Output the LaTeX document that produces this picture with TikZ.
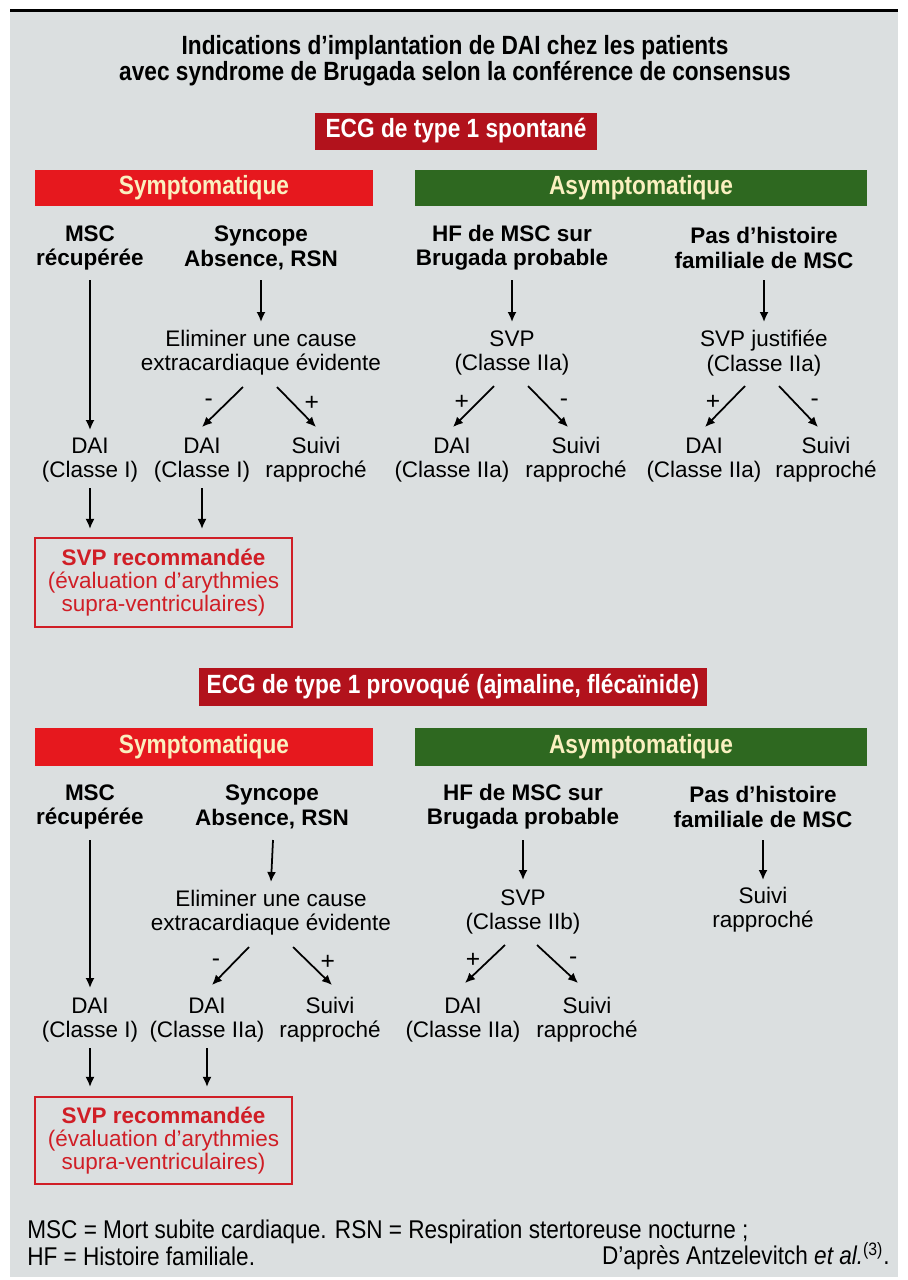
\documentclass[tikz,border=0pt]{standalone}
\usepackage{fontspec}
\setmainfont{Liberation Sans}
\newfontfamily\condfont[FakeStretch=0.86]{Liberation Sans}
\newfontfamily\footfont[FakeStretch=0.88]{Liberation Sans}
\usetikzlibrary{arrows.meta}
\definecolor{panelgray}{RGB}{219,223,224}
\definecolor{ecgred}{RGB}{178,18,28}
\definecolor{symred}{RGB}{230,24,30}
\definecolor{asygreen}{RGB}{46,104,32}
\definecolor{barcream}{RGB}{250,240,192}
\definecolor{recred}{RGB}{208,30,38}

\begin{document}
\begin{tikzpicture}[x=0.2mm, y=-0.2mm, >={Latex[length=2mm,width=1.8mm]},
    txt/.style={align=center, inner sep=0pt, font=\fontsize{12.8}{13.8}\selectfont},
    hd/.style={align=center, inner sep=0pt, font=\fontsize{12.8}{13.8}\selectfont\bfseries},
    bar/.style={inner sep=0pt, minimum height=7.2mm, text=barcream, font=\condfont\fontsize{15}{15}\selectfont\bfseries},
    ecg/.style={inner sep=0pt, fill=ecgred, text=white, font=\condfont\fontsize{15}{15}\selectfont\bfseries},
    rec/.style={draw=recred, line width=1.2pt, text=recred, align=center, inner sep=0pt, minimum width=51.4mm, font=\fontsize{12.8}{13.2}\selectfont},
    foot/.style={inner sep=0pt, font=\footfont\fontsize{14.6}{14.6}\selectfont},
    arr/.style={->, line width=1pt},
    sgn/.style={inner sep=0pt, yshift=-0.8mm, font=\fontsize{14}{14}\selectfont}]
    \useasboundingbox (0,0) rectangle (907,1280);
    \fill[panelgray] (10,10) rectangle (898,1277);
    \draw[line width=0.6mm] (10,10) -- (898,10);

    \node[align=center, inner sep=0pt, font=\condfont\fontsize{15}{14.8}\selectfont\bfseries] (title) at (455,61) {Indications d’implantation de DAI chez les patients\\avec syndrome de Brugada selon la conférence de consensus};

    \node[ecg, minimum width=56.4mm, minimum height=7.4mm] (ecg1) at (456,131) {ECG de type 1 spontané};
    \node[bar, fill=symred, minimum width=67.6mm] (sym1) at (204,188) {Symptomatique};
    \node[bar, fill=asygreen, minimum width=90.4mm] (asy1) at (641,188) {Asymptomatique};

    \node[hd] (msc1) at (90,248) {MSC\\récupérée};
    \node[hd] (syn1) at (261,248) {Syncope\\Absence, RSN};
    \node[hd] (hf1) at (512,248) {HF de MSC sur\\Brugada probable};
    \node[hd] (pas1) at (764,248) {Pas d’histoire\\familiale de MSC};
    \node[txt] (elim1) at (261,353) {Eliminer une cause\\extracardiaque évidente};
    \node[txt] (svpA1) at (512,353) {SVP\\(Classe IIa)};
    \node[txt] (svpB1) at (764,353) {SVP justifiée\\(Classe IIa)};
    \node[txt] (daiA1) at (90,460) {DAI\\(Classe I)};
    \node[txt] (daiB1) at (202,460) {DAI\\(Classe I)};
    \node[txt] (suiB1) at (316,460) {Suivi\\rapproché};
    \node[txt] (daiC1) at (452,460) {DAI\\(Classe IIa)};
    \node[txt] (suiC1) at (576,460) {Suivi\\rapproché};
    \node[txt] (daiD1) at (704,460) {DAI\\(Classe IIa)};
    \node[txt] (suiD1) at (826,460) {Suivi\\rapproché};
    \node[rec, minimum height=17.8mm] (rec1) at (163.5,582.5) {\textbf{SVP recommandée}\\(évaluation d’arythmies\\supra-ventriculaires)};

    \draw[arr] ([yshift=-6.4mm]msc1.center) -- ([yshift=6mm]daiA1.center);
    \draw[arr] ([yshift=-6.4mm]syn1.center) -- ([yshift=6.2mm]elim1.center);
    \draw[arr] ([yshift=-6.4mm]hf1.center) -- ([yshift=6.2mm]svpA1.center);
    \draw[arr] ([yshift=-6.4mm]pas1.center) -- ([yshift=6.2mm]svpB1.center);
    \draw[arr] ([xshift=-3.6mm,yshift=-6.8mm]elim1.center) -- ([yshift=6.6mm]daiB1.center) node[sgn, pos=0.3, xshift=-4.4mm] (m1) {-};
    \draw[arr] ([xshift=3.2mm,yshift=-6.8mm]elim1.center) -- ([yshift=6.6mm]suiB1.center) node[sgn, pos=0.3, xshift=4.6mm] (p1) {+};
    \draw[arr] ([xshift=-3.6mm,yshift=-6.6mm]svpA1.center) -- ([xshift=0.2mm,yshift=6.6mm]daiC1.center) node[sgn, pos=0.3, xshift=-4mm] (p2) {+};
    \draw[arr] ([xshift=3.2mm,yshift=-6.6mm]svpA1.center) -- ([xshift=-1.6mm,yshift=6.6mm]suiC1.center) node[sgn, pos=0.3, xshift=4.8mm] (m2) {-};
    \draw[arr] ([xshift=-3.8mm,yshift=-6.6mm]svpB1.center) -- ([xshift=0.2mm,yshift=6.6mm]daiD1.center) node[sgn, pos=0.3, xshift=-4mm] (p3) {+};
    \draw[arr] ([xshift=3mm,yshift=-6.6mm]svpB1.center) -- ([xshift=-1.6mm,yshift=6.6mm]suiD1.center) node[sgn, pos=0.3, xshift=4.8mm] (m3) {-};
    \draw[arr] ([yshift=-5.6mm]daiA1.center) -- ([yshift=1.6mm]daiA1.center |- rec1.north);
    \draw[arr] ([yshift=-5.6mm]daiB1.center) -- ([yshift=1.6mm]daiB1.center |- rec1.north);

    \node[ecg, minimum width=101.4mm, minimum height=7.6mm] (ecg2) at (453,687) {ECG de type 1 provoqué (ajmaline, flécaïnide)};
    \node[bar, fill=symred, minimum width=67.6mm, minimum height=7.6mm] (sym2) at (204,747) {Symptomatique};
    \node[bar, fill=asygreen, minimum width=90.4mm, minimum height=7.6mm] (asy2) at (641,747) {Asymptomatique};

    \node[hd] (msc2) at (90,807) {MSC\\récupérée};
    \node[hd] (syn2) at (272,807) {Syncope\\Absence, RSN};
    \node[hd] (hf2) at (523,807) {HF de MSC sur\\Brugada probable};
    \node[hd] (pas2) at (763,807) {Pas d’histoire\\familiale de MSC};
    \node[txt] (elim2) at (271,913) {Eliminer une cause\\extracardiaque évidente};
    \node[txt] (svpA2) at (523,912) {SVP\\(Classe IIb)};
    \node[txt] (suiE2) at (763,910) {Suivi\\rapproché};
    \node[txt] (daiA2) at (90,1020) {DAI\\(Classe I)};
    \node[txt] (daiB2) at (207,1020) {DAI\\(Classe IIa)};
    \node[txt] (suiB2) at (330,1020) {Suivi\\rapproché};
    \node[txt] (daiC2) at (463,1020) {DAI\\(Classe IIa)};
    \node[txt] (suiC2) at (587,1020) {Suivi\\rapproché};
    \node[rec, minimum height=17.4mm] (rec2) at (163.5,1140.5) {\textbf{SVP recommandée}\\(évaluation d’arythmies\\supra-ventriculaires)};

    \draw[arr] ([yshift=-6.6mm]msc2.center) -- ([yshift=6.4mm]daiA2.center);
    \draw[arr] ([xshift=0.2mm,yshift=-6.6mm]syn2.center) -- ([yshift=6.2mm]elim2.center);
    \draw[arr] ([yshift=-6.6mm]hf2.center) -- ([yshift=6.4mm]svpA2.center);
    \draw[arr] ([yshift=-6.6mm]pas2.center) -- ([yshift=6mm]suiE2.center);
    \draw[arr] ([xshift=-4.4mm,yshift=-6.8mm]elim2.center) -- ([xshift=1mm,yshift=7mm]daiB2.center) node[sgn, pos=0.3, xshift=-4.4mm] (m4) {-};
    \draw[arr] ([xshift=4.4mm,yshift=-6.8mm]elim2.center) -- ([xshift=0.4mm,yshift=7mm]suiB2.center) node[sgn, pos=0.3, xshift=4.6mm] (p4) {+};
    \draw[arr] ([xshift=-3.6mm,yshift=-6.6mm]svpA2.center) -- ([xshift=0.4mm,yshift=7.4mm]daiC2.center) node[sgn, pos=0.3, xshift=-4mm] (p5) {+};
    \draw[arr] ([xshift=2.8mm,yshift=-6.6mm]svpA2.center) -- ([xshift=-1.8mm,yshift=7.4mm]suiC2.center) node[sgn, pos=0.3, xshift=4.8mm] (m5) {-};
    \draw[arr] ([yshift=-5.6mm]daiA2.center) -- ([yshift=1.8mm]daiA2.center |- rec2.north);
    \draw[arr] ([yshift=-5.6mm]daiB2.center) -- ([yshift=1.8mm]daiB2.center |- rec2.north);

    \node[foot, anchor=west] (note1) at (27,1232) {MSC = Mort subite cardiaque. RSN = Respiration stertoreuse nocturne ;};
    \node[foot, anchor=west] (note2) at (27,1256) {HF = Histoire familiale.};
    \node[foot, anchor=east] (src) at (890,1256) {D’après Antzelevitch \textit{et al.}\textsuperscript{(3)}.};
  \end{tikzpicture}
\end{document}
